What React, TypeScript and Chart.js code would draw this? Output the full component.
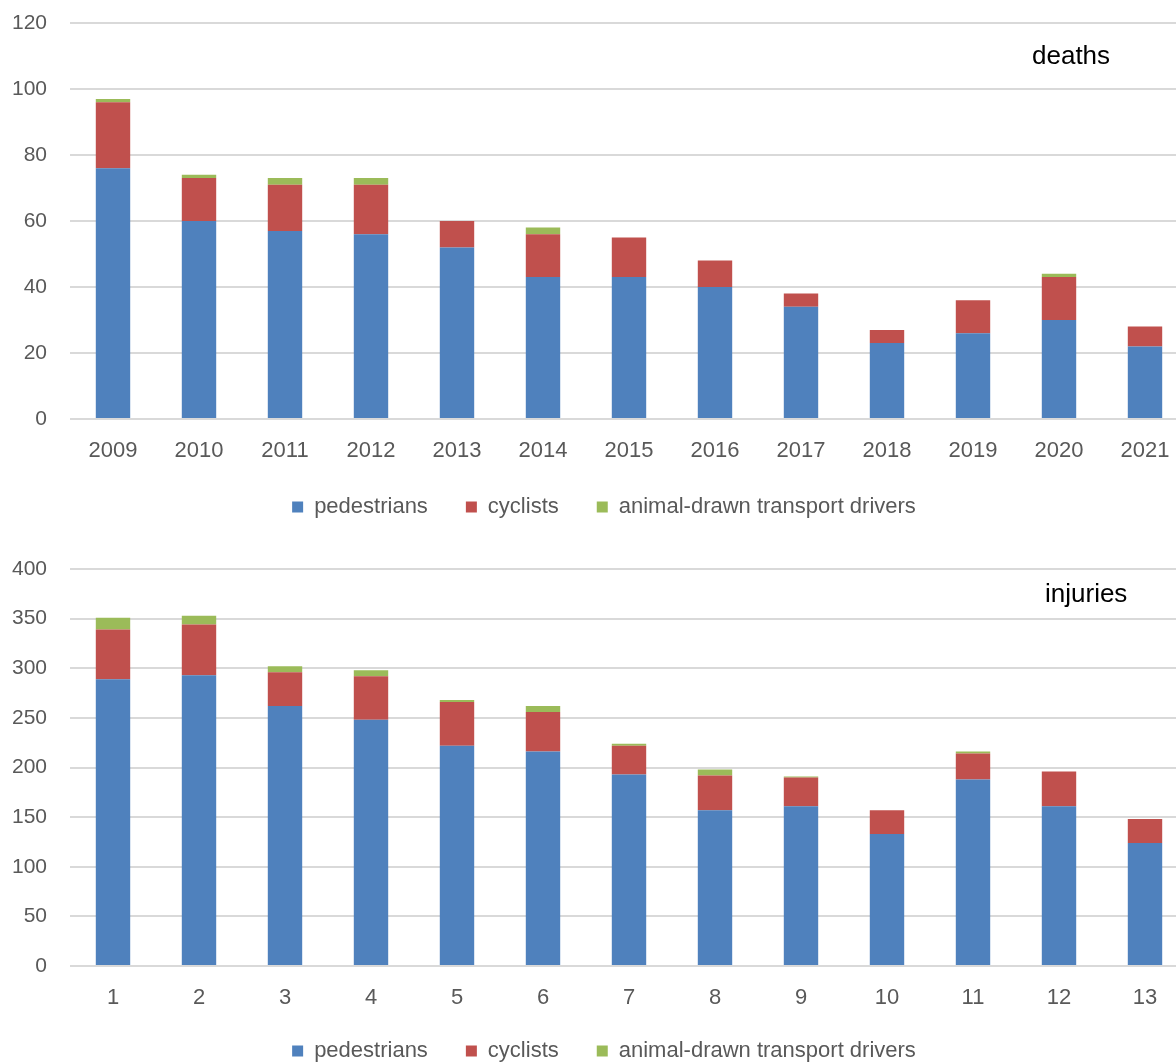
import React, { useEffect, useRef } from "react";
import { Chart, registerables } from "chart.js";

Chart.register(...registerables);

// ---------- data ----------
const years = ["2009", "2010", "2011", "2012", "2013", "2014", "2015", "2016", "2017", "2018", "2019", "2020", "2021"];
const deathsPedestrians = [76, 60, 57, 56, 52, 43, 43, 40, 34, 23, 26, 30, 22];
const deathsCyclists = [20, 13, 14, 15, 8, 13, 12, 8, 4, 4, 10, 13, 6];
const deathsAnimalDrawn = [1, 1, 2, 2, 0, 2, 0, 0, 0, 0, 0, 1, 0];

const injuryCategories = ["1", "2", "3", "4", "5", "6", "7", "8", "9", "10", "11", "12", "13"];
const injuriesPedestrians = [289, 293, 262, 248, 222, 216, 193, 157, 161, 133, 188, 161, 124];
const injuriesCyclists = [50, 51, 34, 44, 44, 40, 29, 35, 29, 24, 26, 35, 24];
const injuriesAnimalDrawn = [12, 9, 6, 6, 2, 6, 2, 6, 1, 0, 2, 0, 0];

const seriesNames = ["pedestrians", "cyclists", "animal-drawn transport drivers"];
const seriesColors = ["#4f81bd", "#c0504d", "#9bbb59"];

const deathsTicks = { max: 120, step: 20 };
const injuriesTicks = { max: 400, step: 50 };

const FONT = "'Liberation Sans', Arial, sans-serif";
const TICK_COLOR = "#595959";
const GRID_COLOR = "#d9d9d9";

const cornerLabel = {
  id: "cornerLabel",
  afterDraw(chart: any, _args: any, opts: any) {
    if (!opts || !opts.text) return;
    const ctx = chart.ctx;
    ctx.save();
    ctx.font = `${opts.size}px ${FONT}`;
    ctx.fillStyle = "#000000";
    ctx.textAlign = "left";
    ctx.textBaseline = "alphabetic";
    ctx.fillText(opts.text, opts.x, opts.y);
    ctx.restore();
  },
};

const legendShift = {
  id: "legendShift",
  afterLayout(chart: any, _args: any, opts: any) {
    const lg = chart.legend;
    if (!lg || !opts) return;
    lg.left += opts.dx || 0;
    lg.right += opts.dx || 0;
    lg.top += opts.dy || 0;
    lg.bottom += opts.dy || 0;
  },
};

type Props = {
  labels: string[];
  series: number[][];
  yMax: number;
  yStep: number;
  title: string;
  titleX: number;
  titleY: number;
  padTop: number;
  padBottom: number;
  legendDy: number;
  height: number;
  top: number;
};

const CANVAS_W = 1190;

function StackedChart(p: Props) {
  const ref = useRef<HTMLCanvasElement | null>(null);
  useEffect(() => {
    if (!ref.current) return;
    const chart = new Chart(ref.current, {
      type: "bar",
      data: {
        labels: p.labels,
        datasets: p.series.map((d, i) => ({
          label: seriesNames[i],
          data: d,
          backgroundColor: seriesColors[i],
          borderWidth: 0,
          barPercentage: 0.4,
          categoryPercentage: 1.0,
        })),
      },
      options: {
        responsive: false,
        animation: false,
        devicePixelRatio: 1,
        layout: { padding: { left: 0, right: 2, top: p.padTop, bottom: p.padBottom } },
        plugins: {
          tooltip: { enabled: false },
          legend: {
            position: "bottom",
            labels: {
              font: { family: FONT, size: 22 },
              color: TICK_COLOR,
              boxWidth: 11,
              boxHeight: 11,
              padding: 38,
            },
          },
          legendShift: { dx: 10, dy: p.legendDy },
          cornerLabel: { text: p.title, x: p.titleX, y: p.titleY, size: 26 },
        } as any,
        scales: {
          x: {
            stacked: true,
            grid: { display: false, drawTicks: false },
            border: { display: false },
            ticks: { font: { family: FONT, size: 22 }, color: TICK_COLOR, padding: 19, maxRotation: 0 },
            afterFit: (s: any) => {
              s.height = 46;
            },
          },
          y: {
            stacked: true,
            min: 0,
            max: p.yMax,
            grid: {
              color: GRID_COLOR,
              lineWidth: 2,
              drawTicks: true,
              tickLength: 22,
              tickColor: "rgba(0,0,0,0)",
            },
            border: { display: false },
            ticks: {
              stepSize: p.yStep,
              font: { family: FONT, size: 21 },
              color: TICK_COLOR,
              padding: 1,
            },
            afterFit: (s: any) => {
              s.width = 70;
            },
          },
        },
      },
      plugins: [cornerLabel, legendShift],
    });
    return () => chart.destroy();
  }, []);
  return (
    <canvas
      ref={ref}
      width={CANVAS_W}
      height={p.height}
      style={{ position: "absolute", left: 0, top: p.top, width: CANVAS_W, height: p.height }}
    />
  );
}

export default function App() {
  return (
    <div
      style={{
        position: "absolute",
        left: 0,
        top: 0,
        width: 1176,
        height: 1064,
        overflow: "hidden",
        background: "#ffffff",
      }}
    >
      <StackedChart
        labels={years}
        series={[deathsPedestrians, deathsCyclists, deathsAnimalDrawn]}
        yMax={deathsTicks.max}
        yStep={deathsTicks.step}
        title="deaths"
        titleX={1032}
        titleY={64}
        padTop={23}
        padBottom={5}
        legendDy={-7}
        height={540}
        top={0}
      />
      <StackedChart
        labels={injuryCategories}
        series={[injuriesPedestrians, injuriesCyclists, injuriesAnimalDrawn]}
        yMax={injuriesTicks.max}
        yStep={injuriesTicks.step}
        title="injuries"
        titleX={1045}
        titleY={62}
        padTop={29}
        padBottom={3}
        legendDy={-10}
        height={545}
        top={540}
      />
    </div>
  );
}
